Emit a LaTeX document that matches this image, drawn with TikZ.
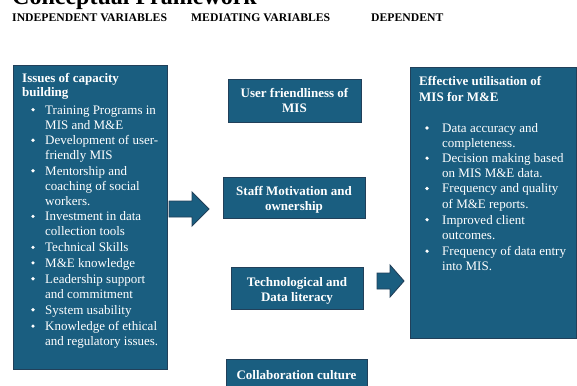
\documentclass[tikz,border=0pt]{standalone}
\usepackage{fontspec}
\setmainfont{Liberation Serif}
\begin{document}
\begin{tikzpicture}[x=1pt,y=-1pt,
  panel/.style={draw=panelline,fill=panelfill,line width=0.9pt},
  blockarrow/.style={draw=panelline,fill=panelfill,line width=0.9pt,line join=miter},
  boxtext/.style={inner sep=0pt,anchor=base west,text=white,font=\fontsize{13}{15}\selectfont},
  boxhead/.style={boxtext,font=\fontsize{13}{15}\selectfont\bfseries},
  midtext/.style={inner sep=0pt,anchor=base,text=white,font=\fontsize{13}{15}\selectfont\bfseries},
  colhead/.style={inner sep=0pt,anchor=base west,font=\fontsize{11.7}{14}\selectfont\bfseries},
  dot/.style={circle,fill=white,inner sep=0pt,minimum size=3.6pt}]
\definecolor{panelfill}{HTML}{1A5E80}
\definecolor{panelline}{HTML}{21405A}
\useasboundingbox (0,0) rectangle (577,385);
\clip (0,0) rectangle (577,385);

% heading and column labels
\node[inner sep=0pt,anchor=base west,font=\fontsize{24}{28}\selectfont\bfseries] (title) at (12,4.5) {Conceptual Framework};
\node[colhead] (hind) at (12,21.5) {INDEPENDENT VARIABLES};
\node[colhead] (hmed) at (191,21.5) {MEDIATING VARIABLES};
\node[colhead] (hdep) at (371,21.5) {DEPENDENT};

% independent variables panel
\node[panel,anchor=north west,minimum width=154pt,minimum height=304pt,inner sep=0pt] (ind) at (13,65) {};
\node[boxhead] (indh1) at (22,82.5) {Issues of capacity};
\node[boxhead] (indh2) at (22,96.5) {building};
\foreach \t/\yy/\b [count=\i] in {
  {Training Programs in}/114/1, {MIS and M\&E}/129/0,
  {Development of user-}/144.5/1, {friendly MIS}/159.7/0,
  {Mentorship and}/175/1, {coaching of social}/190/0, {workers.}/205/0,
  {Investment in data}/220.6/1, {collection tools}/235.7/0,
  {Technical Skills}/251.6/1,
  {M\&E knowledge}/267.2/1,
  {Leadership support}/283/1, {and commitment}/298.2/0,
  {System usability}/314/1,
  {Knowledge of ethical}/330.4/1, {and regulatory issues.}/345.5/0}{
  \node[boxtext] (indl\i) at (45,\yy) {\t};
  \ifnum\b=1 \node[dot] (indb\i) at (33,\yy-4.3) {};\fi
}

% mediating variables
\node[panel,anchor=north west,minimum width=133pt,minimum height=43pt,inner sep=0pt] (med1) at (228,79) {};
\node[midtext] (med1a) at (294.5,97) {User friendliness of};
\node[midtext] (med1b) at (294.5,112.3) {MIS};

\node[panel,anchor=north west,minimum width=142pt,minimum height=41pt,inner sep=0pt] (med2) at (223,177) {};
\node[midtext] (med2a) at (294,195) {Staff Motivation and};
\node[midtext] (med2b) at (294,210.2) {ownership};

\node[panel,anchor=north west,minimum width=132pt,minimum height=42pt,inner sep=0pt] (med3) at (231,267) {};
\node[midtext] (med3a) at (297,286) {Technological and};
\node[midtext] (med3b) at (297,301) {Data literacy};

\node[panel,anchor=north west,minimum width=141pt,minimum height=40pt,inner sep=0pt] (med4) at (226,359) {};
\node[midtext] (med4a) at (296.5,379.5) {Collaboration culture};

% dependent variable panel
\node[panel,anchor=north west,minimum width=166pt,minimum height=271pt,inner sep=0pt] (dep) at (410,67) {};
\node[boxhead] (deph1) at (419,86) {Effective utilisation of};
\node[boxhead] (deph2) at (419,101) {MIS for M\&E};
\foreach \t/\yy/\b [count=\i] in {
  {Data accuracy and}/132.3/1, {completeness.}/147.3/0,
  {Decision making based}/162.5/1, {on MIS M\&E data.}/177.5/0,
  {Frequency and quality}/192.8/1, {of M\&E reports.}/208/0,
  {Improved client}/224/1, {outcomes.}/239/0,
  {Frequency of data entry}/255.5/1, {into MIS.}/270.3/0}{
  \node[boxtext] (depl\i) at (442,\yy) {\t};
  \ifnum\b=1 \node[dot] (depb\i) at (427,\yy-4.3) {};\fi
}

% block arrows between the columns
\draw[blockarrow] (169,201) -- (192,201) -- (192,192) -- (209,209) -- (192,226)
  -- (192,217) -- (169,217) -- cycle;
\draw[blockarrow] (377,273) -- (390,273) -- (390,265) -- (404,281) -- (390,297)
  -- (390,289) -- (377,289) -- cycle;
\end{tikzpicture}
\end{document}
